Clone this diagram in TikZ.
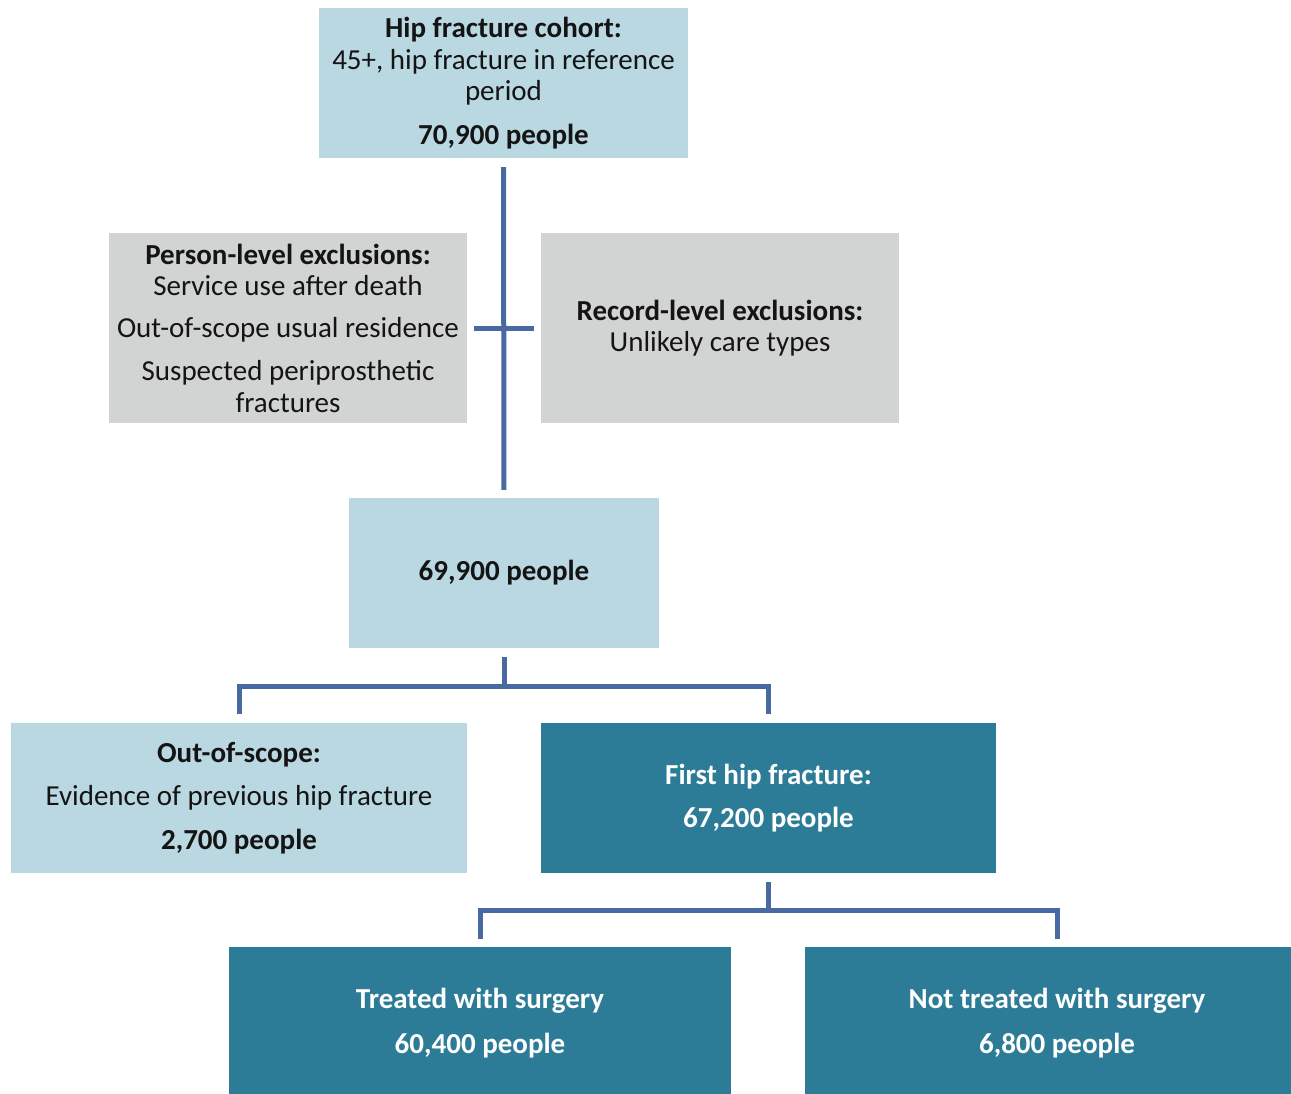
\documentclass[tikz,border=0pt]{standalone}
\usepackage{fontspec}
\setmainfont{Carlito}
\definecolor{paleblue}{RGB}{185,216,225}
\definecolor{greybox}{RGB}{210,211,211}
\definecolor{tealbox}{RGB}{44,124,151}
\definecolor{linkblue}{RGB}{72,106,160}
\definecolor{textdark}{RGB}{20,20,20}
\begin{document}
\begin{tikzpicture}[x=1pt,y=-1pt,
  box/.style={rectangle, inner sep=0pt, align=center,
    font=\fontsize{29}{31.5}\selectfont, text=textdark},
  palebox/.style={box, fill=paleblue},
  greyfill/.style={box, fill=greybox},
  darkbox/.style={box, fill=tealbox, text=white,
    font=\fontsize{29}{31.5}\selectfont\bfseries},
  link/.style={draw=linkblue, line width=5pt}
]
\useasboundingbox (0,0) rectangle (1291,1094);
\clip (0,0) rectangle (1291,1094);

% boxes
\node[palebox, minimum width=369pt, minimum height=150pt] (cohort) at (503.5,83)
  {\textbf{Hip fracture cohort:}\\45+, hip fracture in reference\\period\\[12pt]\textbf{70,900 people}};
\node[greyfill, minimum width=358pt, minimum height=190pt] (person) at (288,328)
  {\textbf{Person-level exclusions:}\\Service use after death\\[10pt]Out-of-scope usual residence\\[12pt]Suspected periprosthetic\\fractures};
\node[greyfill, minimum width=358pt, minimum height=190pt] (record) at (720,328)
  {\textbf{Record-level exclusions:}\\Unlikely care types};
\node[palebox, minimum width=310pt, minimum height=150pt] (remain) at (504,573)
  {\textbf{69,900 people}};
\node[palebox, minimum width=456pt, minimum height=150pt] (scope) at (239,798)
  {\textbf{Out-of-scope:}\\[12pt]Evidence of previous hip fracture\\[12pt]\textbf{2,700 people}};
\node[darkbox, minimum width=455pt, minimum height=150pt] (first) at (768.5,798)
  {First hip fracture:\\[11pt]67,200 people};
\node[darkbox, minimum width=502pt, minimum height=152pt] (surg) at (480,1023)
  {Treated with surgery\\[13pt]60,400 people};
\node[darkbox, minimum width=504pt, minimum height=152pt] (nosurg) at (1057,1023)
  {Not treated with surgery\\[13pt]6,800 people};

% junction points
\coordinate (j1) at (503.5,686);
\coordinate (j2) at (768.5,910);

% connectors
\draw[link, shorten <=9pt, shorten >=8pt] (cohort.south) -- (remain.north);
\draw[link, shorten <=7pt, shorten >=7pt] (person.east) -- (record.west);
\draw[link, shorten <=9pt, shorten >=9pt] (remain.south) |- (j1) -| (scope.north);
\draw[link, shorten <=9pt, shorten >=9pt] (remain.south) |- (j1) -| (first.north);
\draw[link, shorten <=9pt, shorten >=8pt] (first.south) |- (j2) -| (surg.north);
\draw[link, shorten <=9pt, shorten >=8pt] (first.south) |- (j2) -| (nosurg.north);
\end{tikzpicture}
\end{document}
